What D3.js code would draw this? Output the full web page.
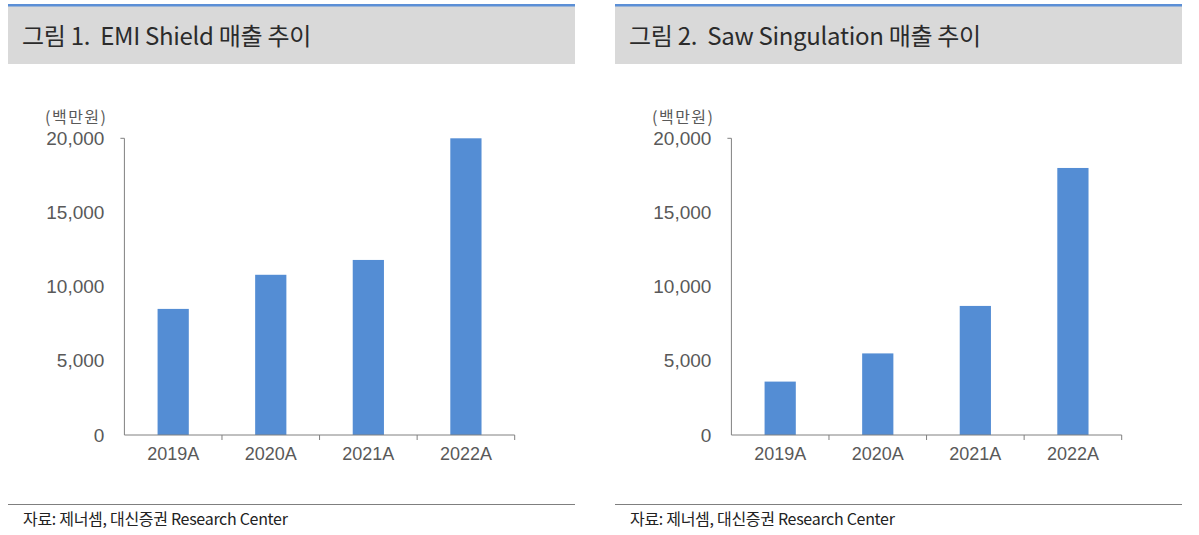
<!DOCTYPE html>
<html>
<head>
<meta charset="utf-8">
<script src="https://cdn.jsdelivr.net/npm/d3@7"></script>
<style>
  body { margin: 0; background: #fff; }
  svg { display: block; }
  text { white-space: pre; }
</style>
</head>
<body>
<svg width="1199" height="535"></svg>
<script>
const categories = ["2019A", "2020A", "2021A", "2022A"];
const emiValues = [8500, 10800, 11800, 20000];
const sawValues = [3600, 5500, 8700, 18000];
const yTicks = [0, 5000, 10000, 15000, 20000];
const titles = ["그림 1.  EMI Shield 매출 추이", "그림 2.  Saw Singulation 매출 추이"];
const sourceText = "자료: 제너셈, 대신증권 Research Center";
const unitText = "(백만원)";

const svg = d3.select("svg");
const numFont = "'Liberation Sans', Arial, sans-serif";
const krFont = "'Noto Sans CJK KR', 'Noto Sans', sans-serif";

function drawPanel(px, title, values) {
	const g = svg.append("g").attr("transform", `translate(${px},0)`);
	const panelW = 567;

	// header box
	g.append("rect").attr("x", 0).attr("y", 6).attr("width", panelW).attr("height", 58).attr("fill", "#d9d9d9");
	g.append("rect").attr("x", 0).attr("y", 4).attr("width", panelW).attr("height", 2.5).attr("fill", "#5b8fd6");
	g.append("text")
		.attr("x", 14).attr("y", 45)
		.attr("font-family", krFont).attr("font-size", 24)
		.attr("letter-spacing", -0.3)
		.attr("fill", "#2b2b2b")
		.text(title);

	// plot area
	const x0 = 116.4, x1 = 506.7, y0 = 435, y1 = 138.3;
	const xScale = d3.scaleBand().domain(categories).range([x0, x1]).paddingInner(0.68).paddingOuter(0.34);
	const yScale = d3.scaleLinear().domain([0, 20000]).range([y0, y1]);
	const step = (x1 - x0) / categories.length;

	g.selectAll(".bar")
		.data(values)
		.enter()
		.append("rect")
		.classed("bar", true)
		.attr("x", (d, i) => xScale(categories[i]))
		.attr("width", xScale.bandwidth())
		.attr("y", (d) => yScale(d))
		.attr("height", (d) => y0 - yScale(d))
		.attr("fill", "#548dd4");

	// y axis
	const yAxis = g.append("g").attr("transform", `translate(${x0},0)`)
		.call(d3.axisLeft(yScale).tickValues(yTicks).tickSize(4).tickPadding(16).tickFormat(d3.format(",")));
	yAxis.select(".domain").attr("stroke", "#808080").attr("d", `M-4,${y1}H0V${y0}`);
	yAxis.selectAll(".tick line").attr("stroke", "none");
	yAxis.selectAll("text").attr("font-family", numFont).attr("font-size", 19).attr("fill", "#595959");

	// x axis
	const xAxis = g.append("g").attr("transform", `translate(0,${y0})`)
		.call(d3.axisBottom(xScale).tickSize(0).tickPadding(12));
	xAxis.select(".domain").attr("stroke", "#808080").attr("d", `M${x0},0H${x1}`);
	xAxis.selectAll("text").attr("font-family", numFont).attr("font-size", 18).attr("fill", "#595959");
	g.selectAll(".xtick")
		.data(d3.range(1, categories.length + 1))
		.enter()
		.append("line")
		.attr("x1", (i) => x0 + i * step).attr("x2", (i) => x0 + i * step)
		.attr("y1", y0).attr("y2", y0 + 5)
		.attr("stroke", "#808080");

	g.append("text")
		.attr("x", 37).attr("y", 123)
		.attr("font-family", krFont).attr("font-size", 16)
		.attr("letter-spacing", 1.5)
		.attr("fill", "#595959")
		.text(unitText);

	// source
	g.append("line").attr("x1", 0).attr("x2", panelW).attr("y1", 504.5).attr("y2", 504.5)
		.attr("stroke", "#7f7f7f").attr("stroke-width", 1.2);
	g.append("text")
		.attr("x", 15).attr("y", 525)
		.attr("font-family", krFont).attr("font-size", 16)
		.attr("letter-spacing", -0.3)
		.attr("fill", "#222")
		.text(sourceText);
}

drawPanel(8, titles[0], emiValues);
drawPanel(615, titles[1], sawValues);
</script>
</body>
</html>
